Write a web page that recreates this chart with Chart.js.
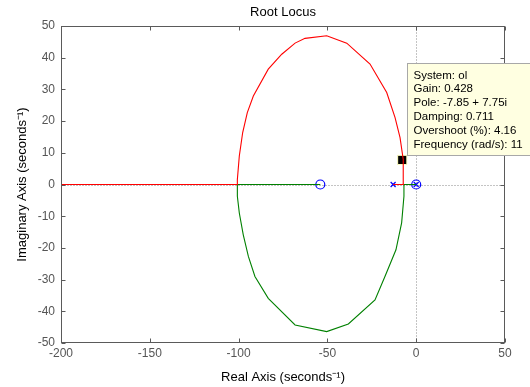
<!DOCTYPE html>
<html><head><meta charset="utf-8">
<script src="https://cdn.jsdelivr.net/npm/chart.js@4/dist/chart.umd.min.js"></script>
<style>html,body{margin:0;padding:0;background:#fff;}canvas{display:block;}</style>
</head><body>
<canvas id="c" width="530" height="387"></canvas>
<script>
// ---- data ----
const xTicks = [-200, -150, -100, -50, 0, 50];
const yTicks = [-50, -40, -30, -20, -10, 0, 10, 20, 30, 40, 50];
const chartTitle = 'Root Locus';

// red branch: pole at -13 -> breakaway -> upper arc -> break-in -> toward -inf
const redRe = [-13, -6.9, -7.3, -9.1, -11.9, -16.6, -26.0, -39.1, -50.4, -62.6, -68.2, -75.7, -83.3, -91.7, -95.1, -97.7, -99.6, -100.7, -100.7, -200];
const redIm = [0, 0, 7.9, 14.8, 21.1, 29.0, 38.0, 44.6, 46.9, 46.1, 44.6, 41.1, 36.4, 27.9, 22.7, 16.4, 9.0, 1.6, 0, 0];

// green branch: pole at 0 -> breakaway -> lower arc -> break-in -> zero at -54
const greenRe = [0, -6.9, -6.9, -8.2, -11.4, -17.6, -23.2, -38.2, -50.4, -68.2, -83.3, -90.8, -94.5, -97.4, -99.6, -100.7, -100.7, -54];
const greenIm = [0, 0, -3.7, -12.1, -20.6, -29.0, -36.4, -44.0, -46.4, -44.3, -35.9, -29.0, -22.7, -15.8, -9.0, -3.7, 0, 0];

const poleRe = [-13, 0];
const poleIm = [0, 0];
const zeroRe = [-54, 0];
const zeroIm = [0, 0];

const tipRe = [-7.85];
const tipIm = [7.75];
const tipLines = ["System: ol", "Gain: 0.428", "Pole: -7.85 + 7.75i", "Damping: 0.711", "Overshoot (%): 4.16", "Frequency (rad/s): 11"];

const FONT = "'Liberation Sans', Arial, sans-serif";
const toPts = (xs, ys) => xs.map((v, i) => ({x: v, y: ys[i]}));

const decor = {
  id: 'decor',
  beforeDatasetsDraw(chart) {
    const {ctx, chartArea: a, scales: {x, y}} = chart;
    ctx.save();
    ctx.strokeStyle = '#c4c4c4';
    ctx.lineWidth = 1;
    ctx.setLineDash([2, 1]);
    const x0 = Math.round(x.getPixelForValue(0)) + 0.5;
    const y0 = Math.round(y.getPixelForValue(0)) + 0.5;
    ctx.beginPath();
    ctx.moveTo(x0, a.top); ctx.lineTo(x0, a.bottom);
    ctx.moveTo(a.left, y0); ctx.lineTo(a.right, y0);
    ctx.stroke();
    ctx.restore();
  },
  afterDraw(chart) {
    const {ctx, chartArea: a, scales: {x, y}} = chart;
    ctx.save();
    // title centred over the axes box
    ctx.fillStyle = '#000';
    ctx.font = '13px ' + FONT;
    ctx.textAlign = 'center';
    ctx.textBaseline = 'middle';
    ctx.fillText(chartTitle, (a.left + a.right) / 2, 12);

    ctx.strokeStyle = '#5a5a5a';
    ctx.lineWidth = 1;
    const L = Math.round(a.left) + 0.5, R = Math.round(a.right) - 0.5;
    const T = Math.round(a.top) + 0.5, B = Math.round(a.bottom) - 0.5;
    ctx.strokeRect(L, T, R - L, B - T);
    ctx.beginPath();
    xTicks.forEach(v => {
      const px = Math.round(x.getPixelForValue(v)) + 0.5;
      ctx.moveTo(px, B); ctx.lineTo(px, B - 4);
      ctx.moveTo(px, T); ctx.lineTo(px, T + 4);
    });
    yTicks.forEach(v => {
      const py = Math.round(y.getPixelForValue(v)) + 0.5;
      ctx.moveTo(L, py); ctx.lineTo(L + 4, py);
      ctx.moveTo(R, py); ctx.lineTo(R - 4, py);
    });
    ctx.stroke();

    // data tip box
    const sx = x.getPixelForValue(tipRe[0]);
    const sy = y.getPixelForValue(tipIm[0]);
    const bx = Math.round(sx + 5) + 0.5, by = Math.round(sy - 97) + 0.5;
    ctx.fillStyle = '#ffffe1';
    ctx.strokeStyle = '#a8a8a8';
    ctx.fillRect(bx, by, 140, 92);
    ctx.strokeRect(bx, by, 140, 92);
    ctx.fillStyle = '#000';
    ctx.font = '11.5px ' + FONT;
    ctx.textBaseline = 'middle';
    ctx.textAlign = 'left';
    tipLines.forEach((t, i) => ctx.fillText(t, bx + 6, by + 12 + i * 13.8));
    ctx.restore();
  }
};

new Chart(document.getElementById('c'), {
  type: 'scatter',
  data: {
    datasets: [
      {data: toPts(redRe, redIm), showLine: true, borderColor: '#ff0000', borderWidth: 1.1, pointRadius: 0, fill: false},
      {data: toPts(greenRe, greenIm), showLine: true, borderColor: '#008000', borderWidth: 1.1, pointRadius: 0, fill: false},
      {data: toPts(poleRe, poleIm), pointStyle: 'crossRot', pointRadius: 3.5, borderColor: '#0000ff', borderWidth: 1.2, backgroundColor: '#0000ff'},
      {data: toPts(zeroRe, zeroIm), pointStyle: 'circle', pointRadius: 4.5, borderColor: '#0000ff', borderWidth: 1.2, backgroundColor: 'rgba(0,0,0,0)'},
      {data: toPts(tipRe, tipIm), pointStyle: 'rect', pointRadius: 6.5, borderColor: '#ffffc0', borderWidth: 1, backgroundColor: '#000'}
    ]
  },
  options: {
    responsive: false,
    animation: false,
    devicePixelRatio: 1,
    layout: {padding: {top: 26, right: 25, bottom: 0, left: 0}},
    plugins: {
      legend: {display: false},
      tooltip: {enabled: false},
      title: {display: false}
    },
    scales: {
      x: {
        type: 'linear', min: -200, max: 50,
        afterBuildTicks: s => { s.ticks = xTicks.map(v => ({value: v})); },
        afterFit: s => { s.height = 44; },
        grid: {display: false, drawTicks: false},
        border: {display: false},
        ticks: {color: '#555', font: {family: FONT, size: 12}, padding: 3, maxRotation: 0},
        title: {display: true, text: 'Real Axis (seconds⁻¹)', color: '#000', font: {family: FONT, size: 13}, padding: {top: 0, bottom: 2.2}}
      },
      y: {
        type: 'linear', min: -50, max: 50,
        afterBuildTicks: s => { s.ticks = yTicks.map(v => ({value: v})); },
        afterFit: s => { s.width = 61; },
        grid: {display: false, drawTicks: false},
        border: {display: false},
        ticks: {color: '#555', font: {family: FONT, size: 12}, padding: 6},
        title: {display: true, text: 'Imaginary Axis (seconds⁻¹)', color: '#000', font: {family: FONT, size: 13}, padding: {top: 14.2, bottom: 0}}
      }
    }
  },
  plugins: [decor]
});
</script>
</body></html>
